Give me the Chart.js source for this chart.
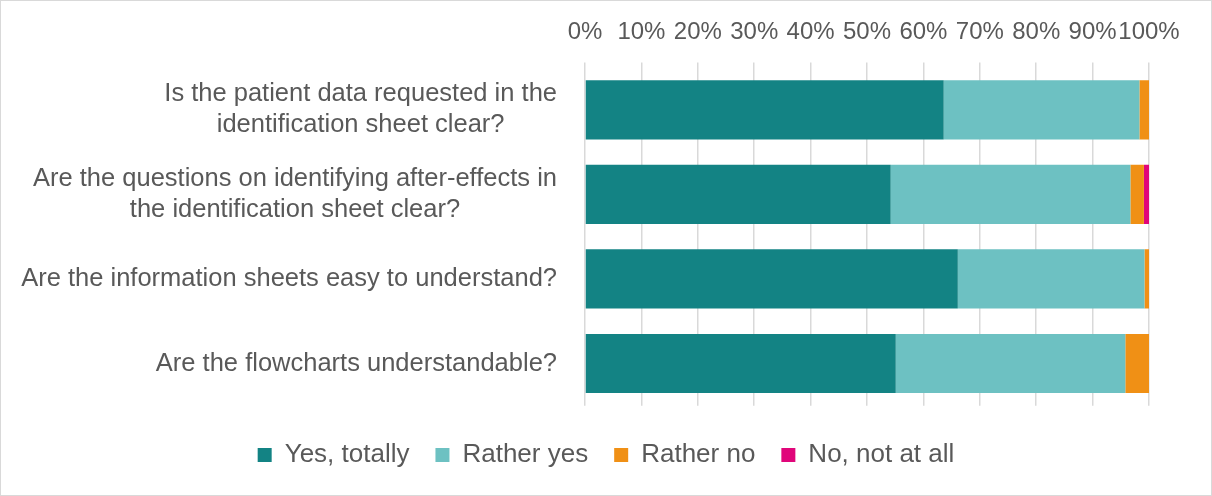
<!DOCTYPE html>
<html>
<head>
<meta charset="utf-8">
<script src="https://cdn.jsdelivr.net/npm/chart.js@4/dist/chart.umd.min.js"></script>
<style>
  html, body { margin: 0; padding: 0; background: #fff; }
  #wrap { width: 1212px; height: 496px; box-sizing: border-box; border: 1px solid #d9d9d9; position: relative; }
  #wrap canvas { display: block; }
</style>
</head>
<body>
<div id="wrap"><canvas id="chart" width="1210" height="494"></canvas></div>
<script>
// ── Data ────────────────────────────────────────────────
var questions = [
  ['Is the patient data requested in the', 'identification sheet clear?'],
  ['Are the questions on identifying after-effects in', 'the identification sheet clear?'],
  ['Are the information sheets easy to understand?'],
  ['Are the flowcharts understandable?']
];
var seriesNames = ['Yes, totally', 'Rather yes', 'Rather no', 'No, not at all'];
var yesTotally = [63.6, 54.2, 66.1, 55.1];
var ratherYes  = [34.7, 42.5, 33.1, 40.7];
var ratherNo   = [1.7, 2.4, 0.8, 4.2];
var notAtAll   = [0, 0.9, 0, 0];
var percentTicks = [0, 10, 20, 30, 40, 50, 60, 70, 80, 90, 100];

var COLORS = ['#138384', '#6dc1c2', '#f09015', '#e0067a'];
var TEXT = '#595959';
var FONT = '"Liberation Sans", Arial, sans-serif';

// category labels: block right-aligned to the axis, lines centred within the block
var categoryLabels = {
  id: 'categoryLabels',
  afterDraw: function (chart) {
    var ctx = chart.ctx;
    var y = chart.scales.y;
    var rightEdge = chart.chartArea.left - 28;
    var lh = 31;
    ctx.save();
    ctx.font = '25.5px ' + FONT;
    ctx.fillStyle = TEXT;
    ctx.textBaseline = 'middle';
    ctx.textAlign = 'center';
    questions.forEach(function (lines, i) {
      var w = Math.max.apply(null, lines.map(function (l) { return ctx.measureText(l).width; }));
      var cx = rightEdge - w / 2;
      var cy = y.getPixelForValue(i);
      lines.forEach(function (l, j) {
        ctx.fillText(l, cx, cy + (j - (lines.length - 1) / 2) * lh);
      });
    });
    ctx.restore();
  }
};

var legendSpace = {
  id: 'legendSpace',
  beforeInit: function (chart) {
    var origFit = chart.legend.fit;
    chart.legend.fit = function () {
      origFit.bind(chart.legend)();
      this.height += 17;
    };
  }
};

var values = [yesTotally, ratherYes, ratherNo, notAtAll];

new Chart(document.getElementById('chart'), {
  type: 'bar',
  data: {
    labels: questions,
    datasets: seriesNames.map(function (name, i) {
      return {
        label: name, data: values[i], backgroundColor: COLORS[i],
        borderWidth: 0, barPercentage: 0.7, categoryPercentage: 1
      };
    })
  },
  options: {
    indexAxis: 'y',
    responsive: false, animation: false,
    layout: { padding: { top: 7, left: 0, right: 0, bottom: 0 } },
    plugins: {
      tooltip: { enabled: false },
      legend: {
        position: 'bottom',
        title: { display: true, text: ' ', font: { size: 1 }, padding: { top: 0, bottom: 9 } },
        labels: {
          color: TEXT, font: { family: FONT, size: 26 },
          boxWidth: 14, boxHeight: 14, padding: 26
        }
      }
    },
    scales: {
      x: {
        position: 'top', stacked: true, min: 0, max: 100,
        afterBuildTicks: function (axis) {
          axis.ticks = percentTicks.map(function (v) { return { value: v }; });
        },
        ticks: {
          color: TEXT, font: { family: FONT, size: 24 },
          autoSkip: false, maxRotation: 0, padding: 16,
          callback: function (v) { return v + '%'; }
        },
        grid: { color: '#d9d9d9', lineWidth: 1.5, drawTicks: true, tickLength: 5, tickColor: '#d9d9d9' },
        border: { display: false },
        afterFit: function (axis) { axis.height = 59.5; }
      },
      y: {
        stacked: true,
        ticks: { display: false },
        grid: { display: false },
        border: { display: false },
        afterFit: function (axis) { axis.width = 584; }
      },
      // empty right-hand gutter so the legend stays centred on the whole canvas
      yRight: {
        type: 'category', labels: questions, position: 'right',
        ticks: { display: false },
        grid: { display: false },
        border: { display: false },
        afterFit: function (axis) { axis.width = 62; }
      }
    }
  },
  plugins: [categoryLabels, legendSpace]
});
</script>
</body>
</html>
